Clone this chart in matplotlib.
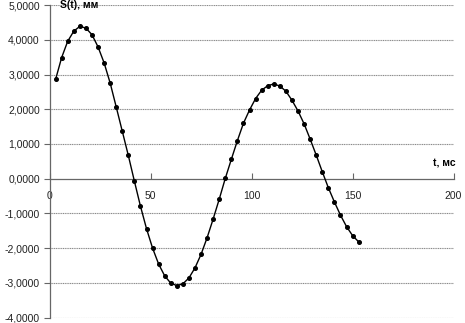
import matplotlib
matplotlib.use('Agg')
import matplotlib.pyplot as plt
from matplotlib.ticker import FuncFormatter

# time, ms
t = list(range(3, 154, 3))
# displacement S(t), mm
s = [2.86, 3.49, 3.96, 4.25, 4.39, 4.34, 4.15, 3.80, 3.34, 2.76,
     2.07, 1.37, 0.67, -0.07, -0.79, -1.44, -2.00, -2.46, -2.80, -3.01,
     -3.08, -3.03, -2.86, -2.57, -2.18, -1.70, -1.16, -0.59, 0.01, 0.56,
     1.10, 1.60, 1.98, 2.31, 2.55, 2.68, 2.73, 2.67, 2.52, 2.26,
     1.95, 1.58, 1.14, 0.68, 0.20, -0.26, -0.67, -1.05, -1.38, -1.64,
     -1.82]

x_ticks = [0, 50, 100, 150, 200]
y_ticks = [-4, -3, -2, -1, 0, 1, 2, 3, 4, 5]

plt.rcParams['font.family'] = ['Liberation Sans', 'DejaVu Sans']

fig = plt.figure(figsize=(4.65, 3.23), dpi=100)
ax = fig.add_axes([0.1065, 0.017, 0.869, 0.967])

# horizontal grid lines
for yv in y_ticks:
    if yv != 0:
        ax.plot([0, 200], [yv, yv], color='#8a8a8a', linewidth=0.8,
                linestyle=(0, (1, 0.6)), zorder=1)

ax.plot(t, s, color='black', linewidth=1.0, marker='o', markersize=2.6, zorder=3)

ax.set_xlim(0, 200)
ax.set_ylim(-4, 5)
ax.spines['top'].set_visible(False)
ax.spines['right'].set_visible(False)
ax.spines['bottom'].set_position(('data', 0))
for sp in ('left', 'bottom'):
    ax.spines[sp].set_color('#666666')
    ax.spines[sp].set_linewidth(0.9)

ax.set_xticks(x_ticks)
ax.set_yticks(y_ticks)
ax.yaxis.set_major_formatter(FuncFormatter(lambda v, p: ('%.4f' % v).replace('.', ',')))
ax.tick_params(axis='y', direction='out', length=4, width=0.8, color='#666666',
               labelsize=7.5, labelcolor='#222222', pad=3)
ax.tick_params(axis='x', direction='in', length=4, width=0.8, color='#666666',
               labelsize=7.5, labelcolor='#222222', pad=9)

ax.text(5, 5.0, 'S(t), мм', fontsize=7.5, fontweight='bold', ha='left', va='center',
        clip_on=False)
ax.text(201, 0.44, 't, мс', fontsize=7.5, fontweight='bold', ha='right', va='center',
        clip_on=False)

fig.savefig('out.png', dpi=100)
